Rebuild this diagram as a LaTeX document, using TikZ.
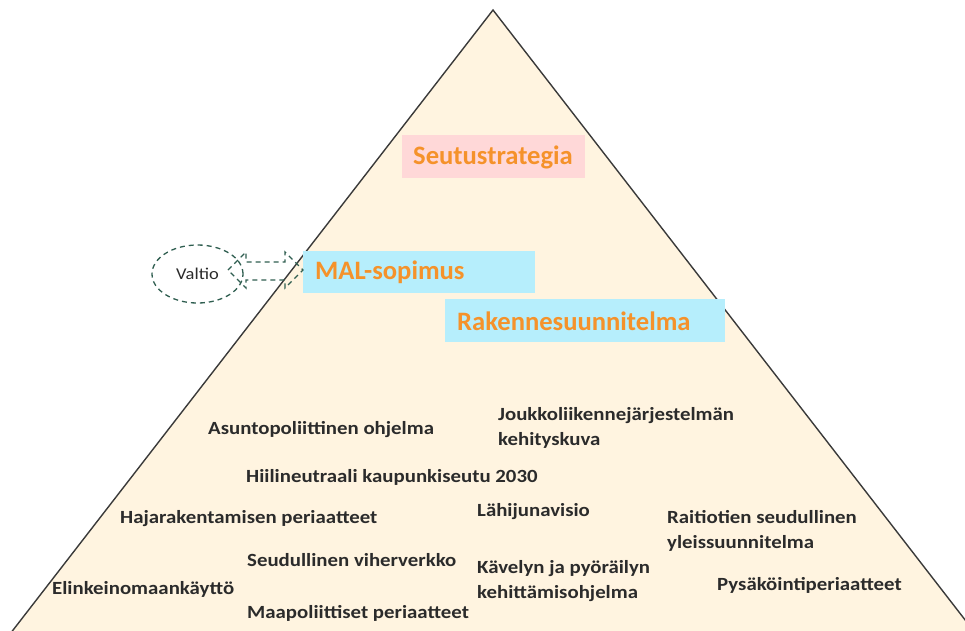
\documentclass[tikz,border=0pt]{standalone}
\usepackage{fontspec}
\setmainfont{Carlito}
\newfontfamily\widefont[FakeStretch=1.12]{Carlito}
\usetikzlibrary{calc,shapes.geometric}
\definecolor{cream}{HTML}{FFF4E0}
\definecolor{edge}{HTML}{3A3A3A}
\definecolor{headorange}{HTML}{F5922A}
\definecolor{pinkbox}{HTML}{FFD8D8}
\definecolor{cyanbox}{HTML}{B6EEFC}
\definecolor{bodytext}{HTML}{2B2B2B}
\definecolor{statedash}{HTML}{2F5E50}
\tikzset{
  heading/.style={font=\fontsize{26.6}{32}\selectfont\bfseries, text=headorange,
    inner sep=0pt, anchor=west},
  item/.style={font=\widefont\fontsize{18.6}{25}\selectfont\bfseries, text=bodytext,
    inner sep=0pt, anchor=west, align=left},
  dashline/.style={draw=statedash, line width=1.3pt, dash pattern=on 5pt off 4pt}
}
\begin{document}
\begin{tikzpicture}[x=1pt,y=-1pt]
  \useasboundingbox (0,0) rectangle (965,630);
  \begin{scope}
    \clip (0,0) rectangle (965,630);
    % pyramid
    \coordinate (apex) at (493,10);
    \coordinate (bl) at (10,634);
    \coordinate (br) at (976,634);
    \fill[cream] (apex) -- (bl) -- (br) -- cycle;
    \draw[edge, line width=1.4pt, line join=miter] (bl) -- (apex) -- (br);
  \end{scope}

  % coloured label boxes
  \fill[pinkbox] (402,135) rectangle (585,178);
  \fill[cyanbox] (303,251) rectangle (535,293);
  \fill[cyanbox] (445,299) rectangle (725,342);
  \node[heading] (seutu) at (413,157) {Seutustrategia};
  \node[heading] (mal) at (315,272) {MAL-sopimus};
  \node[heading] (rakenne) at (457,321) {Rakennesuunnitelma};

  % state and its two-way arrow
  \node[dashline, ellipse, minimum width=91pt, minimum height=58pt, inner sep=0pt,
        font=\widefont\fontsize{16.5}{18}\selectfont, text=bodytext] (valtio) at (197.5,274) {Valtio};
  \draw[dashline, line join=miter]
    (228,270) -- (246,252) -- (246,262) -- (285,262) -- (285,252) -- (303,270)
    -- (285,288) -- (285,280) -- (246,280) -- (246,288) -- cycle;

  % programmes
  \node[item] (asunto) at (208,430) {Asuntopoliittinen ohjelma};
  \node[item] (joukko) at (498,427.5) {Joukkoliikennejärjestelmän\\kehityskuva};
  \node[item] (hiili) at (246,477) {Hiilineutraali kaupunkiseutu 2030};
  \node[item] (haja) at (120,519) {Hajarakentamisen periaatteet};
  \node[item] (lahi) at (477,512) {Lähijunavisio};
  \node[item] (raitio) at (667,530.5) {Raitiotien seudullinen\\yleissuunnitelma};
  \node[item] (viher) at (247,560) {Seudullinen viherverkko};
  \node[item] (kavely) at (477,581.5) {Kävelyn ja pyöräilyn\\kehittämisohjelma};
  \node[item] (pysak) at (717,585) {Pysäköintiperiaatteet};
  \node[item] (elinkeino) at (52,589) {Elinkeinomaankäyttö};
  \node[item] (maa) at (247,613) {Maapoliittiset periaatteet};
\end{tikzpicture}
\end{document}
